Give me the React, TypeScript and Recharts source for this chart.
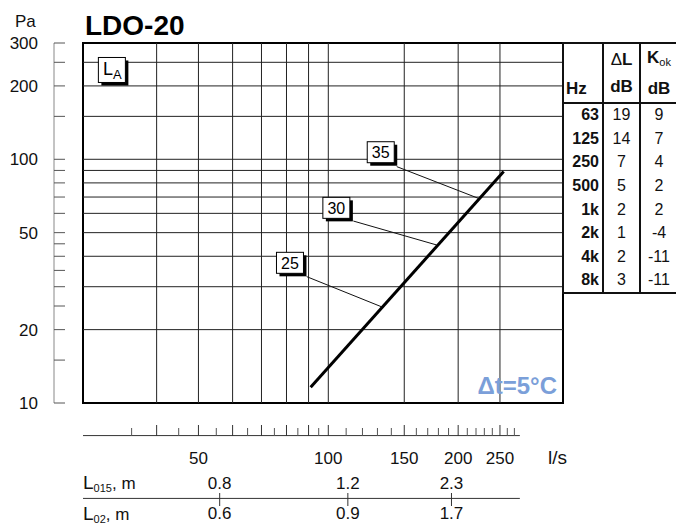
import React from 'react'
import {
  ComposedChart,
  Line,
  XAxis,
  YAxis,
  ReferenceLine,
  ReferenceArea,
  ReferenceDot,
  Label,
} from 'recharts'

// LDO-20: pressure drop (Pa) against air flow (l/s), log-log
const flowLs = [91, 255]
const pressurePa = [11.6, 89]

const paTicks = [10, 15, 20, 25, 30, 35, 40, 45, 50, 60, 70, 80, 90, 100, 150, 200, 250, 300]
const paTickLabels = [10, 20, 50, 100, 200, 300]
const paGrid = [20, 30, 40, 50, 60, 70, 80, 90, 100, 150, 200, 250]

const flowTicks = [
  35, 40, 45, 50, 55, 60, 65, 70, 75, 80, 85, 90, 95, 100, 110, 120, 130, 140, 150, 160, 170, 180,
  190, 200, 210, 220, 230, 240, 250, 260, 270,
]
const flowMajorTicks = [40, 50, 60, 70, 80, 90, 100, 150, 200, 250]
const flowTickLabels = [50, 100, 150, 200, 250]
const flowGrid = [40, 50, 60, 70, 80, 90, 100, 150, 200, 250]

// throw lengths under the flow axis
const throwFlow = [56, 111, 193]
const throwL015 = ['0.8', '1.2', '2.3']
const throwL02 = ['0.6', '0.9', '1.7']

// sound level boxes and their leaders
const noiseLevels = ['25', '30', '35']
const noiseBoxFlow = [81.5, 104.4, 132.3]
const noiseBoxPa = [37.6, 63.2, 106.9]
const leaderFromFlow = [89.1, 114.3, 144.1]
const leaderFromPa = [33.0, 55.8, 93.3]
const leaderToFlow = [133, 178.3, 222.6]
const leaderToPa = [24.8, 44.5, 69.2]

// octave band table
const hz = ['63', '125', '250', '500', '1k', '2k', '4k', '8k']
const deltaL = [19, 14, 7, 5, 2, 1, 2, 3]
const kok = [9, 7, 4, 2, 2, -4, -11, -11]

const FLOW_DOMAIN = [27, 350]
const PA_DOMAIN = [10, 300]
const FLOW_AXIS_END = 278
const FLOW_AXIS_PA = 7.35
const THROW_LINE_PA = 4.06

const FONT = "'Liberation Sans', Arial, Helvetica, sans-serif"
const FLOW_GAP = 33

const chartData = flowLs.map((q, i) => ({ q, pa: pressurePa[i] }))

function PaTick(props: any) {
  const { x, y, payload } = props
  const v = payload.value
  return (
    <g>
      <line x1={x} x2={x + 11} y1={y} y2={y} stroke="#555" />
      {paTickLabels.includes(v) && (
        <text x={x - 16} y={y + 6} textAnchor="end" fontSize={17} fill="#111">
          {v}
        </text>
      )}
    </g>
  )
}

function FlowTick(props: any) {
  const { x, y, payload } = props
  const v = payload.value
  const major = flowMajorTicks.includes(v)
  const axisY = y + FLOW_GAP
  return (
    <g>
      <line x1={x} x2={x} y1={axisY - (major ? 11 : 8)} y2={axisY} stroke={major ? '#333' : '#555'} />
      {flowTickLabels.includes(v) && (
        <text x={x} y={axisY + 28} textAnchor="middle" fontSize={17} fill="#111">
          {v}
        </text>
      )}
    </g>
  )
}

function ThrowTick(props: any) {
  const { x, y, index } = props
  return (
    <g>
      <text x={x} y={y + 53} textAnchor="middle" fontSize={17} fill="#111">
        {throwL015[index]}
      </text>
      <line x1={x} x2={x} y1={y + 57} y2={y + 70} stroke="#333" />
      <text x={x} y={y + 83} textAnchor="middle" fontSize={17} fill="#111">
        {throwL02[index]}
      </text>
    </g>
  )
}

function NoiseBox(props: any) {
  const { cx, cy, text } = props
  const w = 27
  const h = 21
  return (
    <g>
      <rect x={cx - w / 2 + 3} y={cy - h / 2 + 3} width={w} height={h} fill="#000" />
      <rect x={cx - w / 2} y={cy - h / 2} width={w} height={h} fill="#fff" stroke="#000" />
      <text x={cx} y={cy + 6} textAnchor="middle" fontSize={16} fill="#000">
        {text}
      </text>
    </g>
  )
}

function LaBox(props: any) {
  const { cx, cy } = props
  const w = 27
  const h = 25
  return (
    <g>
      <rect x={cx - w / 2 + 3} y={cy - h / 2 + 3} width={w} height={h} fill="#000" />
      <rect x={cx - w / 2} y={cy - h / 2} width={w} height={h} fill="#fff" stroke="#000" />
      <text x={cx - 9} y={cy + 5} fontSize={18} fill="#000">
        L
        <tspan fontSize={13} dy={4}>
          A
        </tspan>
      </text>
    </g>
  )
}

const cellBorder = '2px solid #111'

export default function App() {
  const lastRow = hz.length - 1
  return (
    <div style={{ position: 'absolute', left: 0, top: 0, width: 676, height: 526, fontFamily: FONT, background: '#fff' }}>
      <ComposedChart width={676} height={526} data={chartData} margin={{ top: 43, right: 113, bottom: 0, left: 0 }}>
        <XAxis
          dataKey="q"
          type="number"
          scale="log"
          domain={FLOW_DOMAIN}
          allowDataOverflow
          ticks={flowTicks}
          interval={0}
          height={FLOW_GAP}
          tickSize={0}
          tickMargin={0}
          axisLine={false}
          tickLine={false}
          tick={FlowTick}
        />
        <XAxis
          xAxisId="throw"
          dataKey="q"
          type="number"
          scale="log"
          domain={FLOW_DOMAIN}
          allowDataOverflow
          ticks={throwFlow}
          interval={0}
          height={90}
          tickSize={0}
          tickMargin={0}
          axisLine={false}
          tickLine={false}
          tick={ThrowTick}
        />
        <YAxis
          type="number"
          scale="log"
          domain={PA_DOMAIN}
          allowDataOverflow
          width={29}
          tick={false}
          axisLine={false}
          tickLine={false}
        />
        <YAxis
          yAxisId="scale"
          type="number"
          scale="log"
          domain={PA_DOMAIN}
          allowDataOverflow
          width={54}
          ticks={paTicks}
          interval={0}
          tickSize={0}
          tickMargin={0}
          axisLine={{ stroke: '#888' }}
          tickLine={false}
          tick={PaTick}
        />

        {paGrid.map((v) => (
          <ReferenceLine key={`py${v}`} y={v} stroke="#222" strokeWidth={1} />
        ))}
        {flowGrid.map((v) => (
          <ReferenceLine key={`fx${v}`} x={v} stroke="#222" strokeWidth={1} />
        ))}

        <ReferenceArea x1={212} x2={FLOW_DOMAIN[1]} y1={PA_DOMAIN[0]} y2={13.8} fill="#fff" fillOpacity={1} stroke="none">
          <Label value="Δt=5°C" position="insideRight" offset={6} fill="#7b9fd9" fontSize={24} fontWeight="bold" />
        </ReferenceArea>

        <ReferenceArea
          x1={FLOW_DOMAIN[0]}
          x2={FLOW_DOMAIN[1]}
          y1={PA_DOMAIN[0]}
          y2={PA_DOMAIN[1]}
          fill="none"
          stroke="#000"
          strokeWidth={2}
          ifOverflow="visible"
        />

        {/* flow axis line and throw row line below the plot */}
        <ReferenceLine
          segment={[
            { x: FLOW_DOMAIN[0], y: FLOW_AXIS_PA },
            { x: FLOW_AXIS_END, y: FLOW_AXIS_PA },
          ]}
          stroke="#333"
          ifOverflow="visible"
        />
        <ReferenceLine
          segment={[
            { x: FLOW_DOMAIN[0], y: THROW_LINE_PA },
            { x: FLOW_AXIS_END, y: THROW_LINE_PA },
          ]}
          stroke="#333"
          ifOverflow="visible"
        />

        {noiseLevels.map((n, i) => (
          <ReferenceLine
            key={`ld${n}`}
            segment={[
              { x: leaderFromFlow[i], y: leaderFromPa[i] },
              { x: leaderToFlow[i], y: leaderToPa[i] },
            ]}
            stroke="#111"
            strokeWidth={1}
          />
        ))}
        {noiseLevels.map((n, i) => (
          <ReferenceDot
            key={`nb${n}`}
            x={noiseBoxFlow[i]}
            y={noiseBoxPa[i]}
            r={0}
            shape={(p: any) => <NoiseBox cx={p.cx} cy={p.cy} text={n} />}
          />
        ))}
        <ReferenceDot x={31.5} y={232.5} r={0} shape={(p: any) => <LaBox cx={p.cx} cy={p.cy} />} />

        <Line
          dataKey="pa"
          type="linear"
          stroke="#000"
          strokeWidth={3}
          dot={false}
          isAnimationActive={false}
        />
      </ComposedChart>

      <svg width={676} height={526} style={{ position: 'absolute', left: 0, top: 0, pointerEvents: 'none' }}>
        <text x={85} y={35} fontSize={28} fontWeight="bold" fill="#000">
          LDO-20
        </text>
        <text x={15} y={27} fontSize={17} fill="#111">
          Pa
        </text>
        <text x={548} y={464} fontSize={19} fill="#111">
          l/s
        </text>
        <text x={83} y={489} fontSize={19} fill="#111">
          L
          <tspan fontSize={11} dy={3}>
            015
          </tspan>
          <tspan fontSize={17} dy={-3}>
            , m
          </tspan>
        </text>
        <text x={83} y={520} fontSize={19} fill="#111">
          L
          <tspan fontSize={11} dy={3}>
            02
          </tspan>
          <tspan fontSize={17} dy={-3}>
            , m
          </tspan>
        </text>
      </svg>

      <table
        style={{
          position: 'absolute',
          left: 562,
          top: 42,
          width: 115,
          borderCollapse: 'collapse',
          tableLayout: 'fixed',
          fontSize: 16,
          color: '#111',
          background: '#fff',
        }}
      >
        <colgroup>
          <col style={{ width: 40 }} />
          <col style={{ width: 37 }} />
          <col style={{ width: 38 }} />
        </colgroup>
        <thead>
          <tr style={{ height: 54 }}>
            <th style={{ border: cellBorder, padding: 0, verticalAlign: 'bottom', textAlign: 'left', paddingLeft: 2, lineHeight: '26px', fontSize: 17 }}>Hz</th>
            <th style={{ border: cellBorder, padding: 0, textAlign: 'center', fontSize: 17 }}>
              <div style={{ lineHeight: '28px' }}>
                <span style={{ fontWeight: 'normal' }}>Δ</span>L
              </div>
              <div style={{ lineHeight: '26px' }}>dB</div>
            </th>
            <th style={{ border: cellBorder, padding: 0, textAlign: 'center', fontSize: 17 }}>
              <div style={{ lineHeight: '28px' }}>
                K<sub style={{ fontSize: 11, fontWeight: 'normal', verticalAlign: -3 }}>ok</sub>
              </div>
              <div style={{ lineHeight: '26px' }}>dB</div>
            </th>
          </tr>
        </thead>
        <tbody>
          {hz.map((h, i) => (
            <tr key={h} style={{ height: 23.7 }}>
              <td style={{ borderLeft: cellBorder, borderRight: cellBorder, borderBottom: i === lastRow ? cellBorder : 'none', padding: '0 3px 0 0', textAlign: 'right', fontWeight: 'bold' }}>
                {h}
              </td>
              <td style={{ borderLeft: cellBorder, borderRight: cellBorder, borderBottom: i === lastRow ? cellBorder : 'none', padding: 0, textAlign: 'center' }}>
                {deltaL[i]}
              </td>
              <td style={{ borderLeft: cellBorder, borderRight: cellBorder, borderBottom: i === lastRow ? cellBorder : 'none', padding: 0, textAlign: 'center' }}>
                {kok[i]}
              </td>
            </tr>
          ))}
        </tbody>
      </table>
    </div>
  )
}
